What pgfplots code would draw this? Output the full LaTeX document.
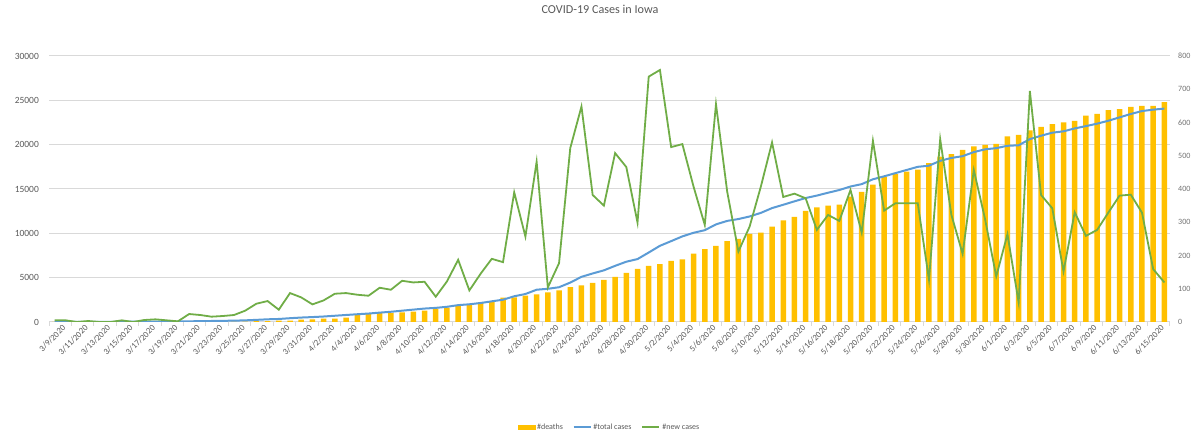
\documentclass[border=0pt]{standalone}
\usepackage{pgfplots}
\pgfplotsset{compat=1.18}
\usepackage{pgfplotstable}
\usepackage{fontspec}
\setmainfont{Carlito}
\definecolor{barc}{HTML}{FFC000}
\definecolor{bluec}{HTML}{5B9BD5}
\definecolor{greenc}{HTML}{70AD47}
\definecolor{txt}{HTML}{595959}
\definecolor{gridc}{HTML}{D9D9D9}

\pgfplotstableread{
i deaths total new
0 0 18 5
1 0 23 5
2 0 23 0
3 0 26 3
4 0 26 0
5 0 26 0
6 0 31 5
7 0 31 0
8 0 37 6
9 0 45 8
10 0 50 5
11 0 52 2
12 0 76 24
13 0 97 21
14 0 113 16
15 0 131 18
16 1 152 21
17 1 186 34
18 3 241 55
19 3 304 63
20 4 341 37
21 4 428 87
22 7 502 74
23 8 555 53
24 10 620 65
25 10 705 85
26 13 792 87
27 22 874 82
28 24 953 79
29 27 1056 103
30 27 1153 97
31 29 1277 124
32 31 1396 119
33 34 1517 121
34 40 1593 76
35 43 1715 122
36 48 1902 187
37 53 1997 95
38 60 2142 145
39 63 2332 190
40 73 2512 180
41 74 2902 390
42 79 3159 257
43 83 3641 482
44 89 3745 104
45 95 3922 177
46 105 4445 523
47 110 5093 648
48 118 5475 382
49 127 5825 350
50 136 6333 508
51 148 6799 466
52 160 7098 299
53 169 7836 738
54 174 8594 758
55 184 9120 526
56 188 9655 535
57 206 10062 407
58 219 10354 292
59 229 11009 655
60 243 11401 392
61 250 11613 212
62 265 11900 287
63 269 12307 407
64 287 12847 540
65 306 13223 376
66 316 13609 386
67 334 13981 372
68 345 14258 277
69 350 14580 322
70 353 14884 304
71 377 15281 397
72 391 15550 269
73 413 16095 545
74 436 16430 335
75 445 16787 357
76 452 17144 357
77 458 17501 357
78 478 17628 127
79 497 18178 550
80 505 18500 322
81 518 18705 205
82 528 19162 457
83 533 19472 310
84 536 19609 137
85 558 19873 264
86 563 19932 59
87 576 20627 695
88 587 21009 382
89 595 21351 342
90 600 21503 152
91 605 21833 330
92 621 22092 259
93 626 22369 277
94 637 22698 329
95 640 23078 380
96 647 23461 383
97 650 23790 329
98 650 23949 159
99 661 24068 119
}\data

\pgfplotsset{
  base/.style={scale only axis, width=1121bp, height=266bp,
    at={(49bp,118bp)}, anchor=south west, xmin=-0.5, xmax=99.5,
    scaled y ticks=false,
    /pgf/number format/.cd, 1000 sep={}, assume math mode=true, /pgfplots/.cd},
  barleg/.style={legend image code/.code={\fill[barc] (0bp,-2bp) rectangle (17bp,2bp);}},
}

\begin{document}
\begin{tikzpicture}
\path[use as bounding box] (0,0) rectangle (1200bp,440bp);
\node[font=\fontsize{12.2}{14}\selectfont, text=txt] at (600bp,431bp) {COVID-19 Cases in Iowa};

% axis 1: left scale, grid, ticks, x labels
\begin{axis}[base, ymin=0, ymax=30000,
  axis x line*=bottom, axis y line*=left,
  y axis line style={draw=none},
  x axis line style={gridc, line width=1bp},
  ytick={0,5000,...,30000}, ymajorgrids,
  grid style={gridc, line width=1bp},
  major tick length=0,
  yticklabel style={font=\fontsize{9.5}{10}\selectfont, text=txt, anchor=east, inner sep=0pt, xshift=-10bp},
  xtick={0,2,...,98},
  xticklabels={3/9/2020,3/11/2020,3/13/2020,3/15/2020,3/17/2020,3/19/2020,3/21/2020,3/23/2020,3/25/2020,3/27/2020,3/29/2020,3/31/2020,4/2/2020,4/4/2020,4/6/2020,4/8/2020,4/10/2020,4/12/2020,4/14/2020,4/16/2020,4/18/2020,4/20/2020,4/22/2020,4/24/2020,4/26/2020,4/28/2020,4/30/2020,5/2/2020,5/4/2020,5/6/2020,5/8/2020,5/10/2020,5/12/2020,5/14/2020,5/16/2020,5/18/2020,5/20/2020,5/22/2020,5/24/2020,5/26/2020,5/28/2020,5/30/2020,6/1/2020,6/3/2020,6/5/2020,6/7/2020,6/9/2020,6/11/2020,6/13/2020,6/15/2020},
  xticklabel style={rotate=45, anchor=east, font=\fontsize{8.7}{9}\selectfont, text=txt, inner sep=0pt, xshift=3.5bp, yshift=-10bp},
  extra x ticks={-0.5,1.5,...,99.5}, extra x tick labels={},
  extra x tick style={major tick length=4bp, tick align=outside, tick style={gridc, line width=1bp}, grid=none},
]
\addplot[draw=none] coordinates {(0,0)};
\end{axis}

% axis 2: right scale, bars
\begin{axis}[base, ymin=0, ymax=800,
  axis y line*=right, axis x line=none,
  y axis line style={draw=none},
  ytick={0,100,...,800}, xtick=\empty, major tick length=0,
  yticklabel style={font=\fontsize{8.1}{9}\selectfont, text=txt!85, anchor=west, inner sep=0pt, xshift=8bp},
]
\addplot[ybar, bar width=5.5bp, fill=barc, draw=none] table[x=i, y=deaths] {\data};
\end{axis}

% axis 3: left scale, total cases
\begin{axis}[base, ymin=0, ymax=30000, hide axis]
\addplot[bluec, line width=2bp] table[x=i, y=total] {\data};
\end{axis}

% axis 4: right scale, new cases + legend
\begin{axis}[base, ymin=0, ymax=800, hide axis,
  legend style={at={(0.5,-0.395)}, anchor=center, draw=none, fill=none,
    legend columns=3, font=\fontsize{8}{9}\selectfont, text=txt,
    /tikz/every even column/.append style={column sep=8bp}},
  legend cell align=left,
]
\addlegendimage{barleg}
\addlegendentry{\#deaths}
\addlegendimage{bluec, line width=1.5bp}
\addlegendentry{\#total cases}
\addplot[greenc, line width=1.8bp] table[x=i, y=new] {\data};
\addlegendentry{\#new cases}
\end{axis}
\end{tikzpicture}
\end{document}
